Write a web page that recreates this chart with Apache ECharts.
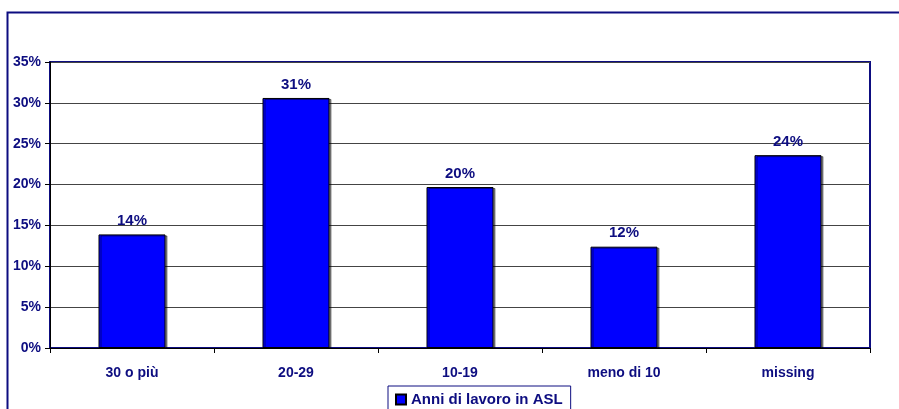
<!DOCTYPE html>
<html><head><meta charset="utf-8">
<script src="https://cdn.jsdelivr.net/npm/echarts@6/dist/echarts.min.js"></script>
<style>html,body{margin:0;padding:0;background:#fff;}#c{width:899px;height:409px;}</style>
</head><body><div id="c"></div>
<script>
const categories = ["30 o più", "20-29", "10-19", "meno di 10", "missing"];
const values = [0.139, 0.306, 0.197, 0.124, 0.236];
const labels = ["14%", "31%", "20%", "12%", "24%"];
const seriesName = "Anni di lavoro in ASL";
const navy = "#0d0d80";
const ff = "'Liberation Sans', Arial, sans-serif";
const chart = echarts.init(document.getElementById('c'));
chart.setOption({
  animation: false,
  textStyle: {fontFamily: ff},
  graphic: [{type: 'rect', shape: {x: 7.5, y: 12.5, width: 1000, height: 600}, style: {fill: 'none', stroke: navy, lineWidth: 2}, z: 0, silent: true}],
  grid: {left: 50, top: 62, right: 29, bottom: 61, show: true, borderColor: navy, borderWidth: 2, backgroundColor: '#fff'},
  legend: {
    bottom: -8, left: 388, itemWidth: 10, itemHeight: 10, itemGap: 5,
    padding: [6, 8, 10, 7],
    borderColor: navy, borderWidth: 1,
    textStyle: {color: navy, fontWeight: 'bold', fontSize: 15, fontFamily: ff},
    data: [{name: seriesName, icon: 'rect'}]
  },
  xAxis: {
    type: 'category', data: categories,
    axisLine: {lineStyle: {color: '#000', width: 1}},
    axisTick: {show: true, length: 5, lineStyle: {color: '#000'}},
    axisLabel: {color: navy, fontWeight: 'bold', fontSize: 14, margin: 18, fontFamily: ff}
  },
  yAxis: {
    type: 'value', min: 0, max: 0.35, interval: 0.05,
    axisLine: {show: true, lineStyle: {color: '#000'}},
    axisTick: {show: true, length: 5, lineStyle: {color: '#000'}},
    splitLine: {lineStyle: {color: '#444', width: 1}},
    axisLabel: {color: navy, fontWeight: 'bold', fontSize: 14, margin: 9, fontFamily: ff,
      formatter: v => Math.round(v * 100) + '%'}
  },
  series: [{
    name: seriesName, type: 'bar', data: values, barWidth: 67,
    itemStyle: {color: '#0000ff', borderColor: '#000', borderWidth: 1,
      shadowColor: 'rgba(0,0,0,0.45)', shadowOffsetX: 2, shadowOffsetY: 1, shadowBlur: 0},
    label: {show: true, position: 'top', distance: 6, color: navy, fontWeight: 'bold', fontSize: 15, fontFamily: ff,
      formatter: p => labels[p.dataIndex]}
  }]
});
</script></body></html>
